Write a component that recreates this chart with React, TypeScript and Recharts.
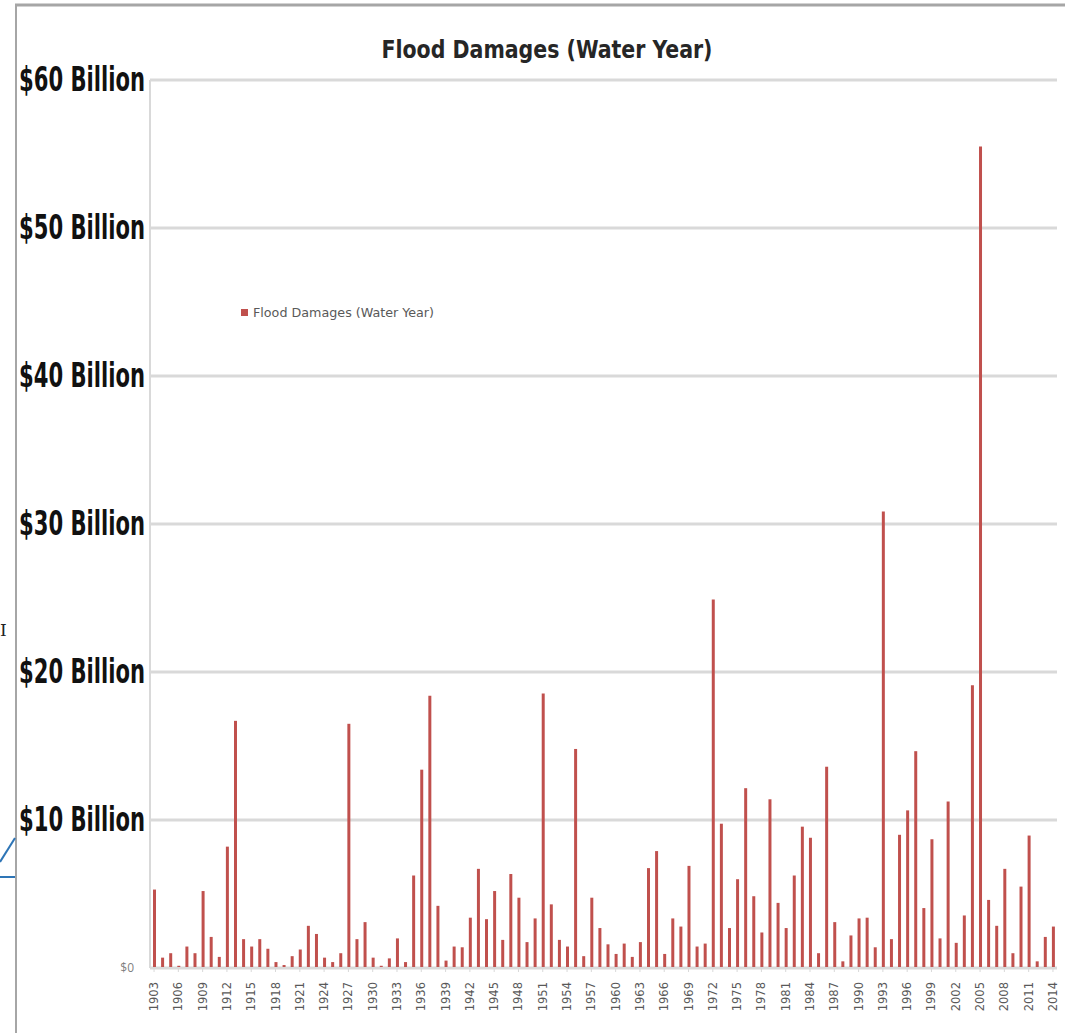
import React from "react";
import { BarChart, Bar, XAxis, YAxis, CartesianGrid, Legend } from "recharts";

// Water years on the category axis
const years: number[] = [
  1903, 1904, 1905, 1906, 1907, 1908, 1909, 1910, 1911, 1912,
  1913, 1914, 1915, 1916, 1917, 1918, 1919, 1920, 1921, 1922,
  1923, 1924, 1925, 1926, 1927, 1928, 1929, 1930, 1931, 1932,
  1933, 1934, 1935, 1936, 1937, 1938, 1939, 1940, 1941, 1942,
  1943, 1944, 1945, 1946, 1947, 1948, 1949, 1950, 1951, 1952,
  1953, 1954, 1955, 1956, 1957, 1958, 1959, 1960, 1961, 1962,
  1963, 1964, 1965, 1966, 1967, 1968, 1969, 1970, 1971, 1972,
  1973, 1974, 1975, 1976, 1977, 1978, 1979, 1980, 1981, 1982,
  1983, 1984, 1985, 1986, 1987, 1988, 1989, 1990, 1991, 1992,
  1993, 1994, 1995, 1996, 1997, 1998, 1999, 2000, 2001, 2002,
  2003, 2004, 2005, 2006, 2007, 2008, 2009, 2010, 2011, 2012,
  2013, 2014,
];

// Flood damages per water year, in billions of dollars
const damages: number[] = [
  5.3, 0.7, 1.0, 0.15, 1.45, 1.0, 5.2, 2.1, 0.75, 8.2,
  16.7, 1.95, 1.45, 1.95, 1.3, 0.4, 0.2, 0.8, 1.25, 2.85,
  2.3, 0.7, 0.4, 1.0, 16.5, 1.95, 3.1, 0.7, 0.15, 0.65,
  2.0, 0.4, 6.25, 13.4, 18.4, 4.2, 0.5, 1.45, 1.4, 3.4,
  6.7, 3.3, 5.2, 1.9, 6.35, 4.75, 1.75, 3.35, 18.55, 4.3,
  1.9, 1.45, 14.8, 0.8, 4.75, 2.7, 1.6, 0.95, 1.65, 0.75,
  1.75, 6.75, 7.9, 0.95, 3.35, 2.8, 6.9, 1.45, 1.65, 24.9,
  9.75, 2.7, 6.0, 12.15, 4.85, 2.4, 11.4, 4.4, 2.7, 6.25,
  9.55, 8.8, 1.0, 13.6, 3.1, 0.45, 2.2, 3.35, 3.4, 1.4,
  30.85, 1.95, 9.0, 10.65, 14.65, 4.05, 8.7, 2.0, 11.25, 1.7,
  3.55, 19.1, 55.5, 4.6, 2.85, 6.7, 1.0, 5.5, 8.95, 0.45,
  2.1, 2.8,
];

// Value-axis ticks (billions) and their labels
const yTicks: number[] = [0, 10, 20, 30, 40, 50, 60];
const yTickLabels: string[] = [
  "$0",
  "$10 Billion",
  "$20 Billion",
  "$30 Billion",
  "$40 Billion",
  "$50 Billion",
  "$60 Billion",
];

const seriesName = "Flood Damages (Water Year)";
const titleText = "Flood Damages (Water Year)";

const data = years.map((year, i) => ({ year: String(year), damage: damages[i] }));

const BAR_COLOR = "#c0504d";
const GRID_COLOR = "#d9d9d9";
const NARROW_FONT = "'Liberation Sans Narrow', 'DejaVu Sans Condensed', 'Open Sans', sans-serif";

const YTick = (props: any) => {
  const { x, y, payload } = props;
  const idx = yTicks.indexOf(payload.value);
  const label = yTickLabels[idx] ?? "";
  if (payload.value === 0) {
    return (
      <text
        x={x - 16}
        y={y}
        dy={4}
        textAnchor="end"
        fontSize={12}
        fontFamily="'Open Sans', sans-serif"
        fill="#7f7f7f"
      >
        {label}
      </text>
    );
  }
  return (
    <text
      x={x - 5}
      y={y}
      dy={11}
      textAnchor="end"
      fontSize={33}
      fontWeight="bold"
      fontFamily={NARROW_FONT}
      fill="#111111"
      textLength={126}
      lengthAdjust="spacingAndGlyphs"
    >
      {label}
    </text>
  );
};

const XTick = (props: any) => {
  const { x, y, payload } = props;
  return (
    <g transform={`translate(${x},${y + 8})`}>
      <text
        x={0}
        y={0}
        dy={4}
        textAnchor="end"
        transform="rotate(-90)"
        fontSize={11.5}
        fontFamily="'DejaVu Sans', sans-serif"
        fill="#595959"
      >
        {payload.value}
      </text>
    </g>
  );
};

const LegendBox = () => (
  <svg width={200} height={20} style={{ display: "block", overflow: "visible" }}>
    <rect x={3} y={5} width={7} height={7} fill={BAR_COLOR} />
    <text
      x={15}
      y={13}
      fontSize={12}
      fontFamily={NARROW_FONT}
      fill="#595959"
      textLength={181}
      lengthAdjust="spacingAndGlyphs"
    >
      {seriesName}
    </text>
  </svg>
);

export default function App() {
  return (
    <div
      style={{
        position: "absolute",
        left: 0,
        top: 0,
        width: 1065,
        height: 1033,
        background: "#ffffff",
        overflow: "hidden",
      }}
    >
      <BarChart
        width={1065}
        height={1033}
        data={data}
        margin={{ top: 80, right: 8, bottom: 9, left: 8 }}
        barCategoryGap={0}
      >
        <CartesianGrid
          vertical={false}
          stroke={GRID_COLOR}
          strokeWidth={3}
        />
        <XAxis
          dataKey="year"
          interval={2}
          height={56}
          tick={<XTick />}
          tickSize={4}
          tickMargin={2}
          axisLine={{ stroke: GRID_COLOR, strokeWidth: 2 }}
          tickLine={{ stroke: GRID_COLOR }}
        />
        <YAxis
          width={142}
          domain={[0, 60]}
          ticks={yTicks}
          interval={0}
          tick={<YTick />}
          tickSize={0}
          tickMargin={0}
          tickLine={false}
          axisLine={{ stroke: GRID_COLOR, strokeWidth: 2 }}
        />
        <Legend
          content={<LegendBox />}
          wrapperStyle={{
            position: "absolute",
            left: 238,
            top: 304,
            width: 200,
            height: 0,
            overflow: "visible",
          }}
        />
        <Bar
          dataKey="damage"
          name={seriesName}
          fill={BAR_COLOR}
          barSize={3}
          isAnimationActive={false}
        />
      </BarChart>

      <svg
        width={1065}
        height={1033}
        style={{ position: "absolute", left: 0, top: 0, pointerEvents: "none" }}
      >
        {/* outer frame */}
        <line x1={15} y1={5} x2={1065} y2={5} stroke="#a6a6a6" strokeWidth={3} />
        <line x1={16} y1={4} x2={16} y2={1033} stroke="#a6a6a6" strokeWidth={2} />
        {/* chart title */}
        <text
          x={547}
          y={58}
          textAnchor="middle"
          fontSize={25}
          fontWeight="bold"
          fontFamily={NARROW_FONT}
          fill="#262626"
          textLength={331}
          lengthAdjust="spacingAndGlyphs"
        >
          {titleText}
        </text>
        {/* connector stub at the left edge */}
        <line x1={0} y1={877} x2={15} y2={877} stroke="#2e75b6" strokeWidth={2} />
        <line x1={0} y1={862} x2={15} y2={838} stroke="#2e75b6" strokeWidth={2} />
        <text x={0} y={636} fontSize={17} fontFamily="'DejaVu Serif', serif" fill="#222222">
          I
        </text>
      </svg>
    </div>
  );
}
